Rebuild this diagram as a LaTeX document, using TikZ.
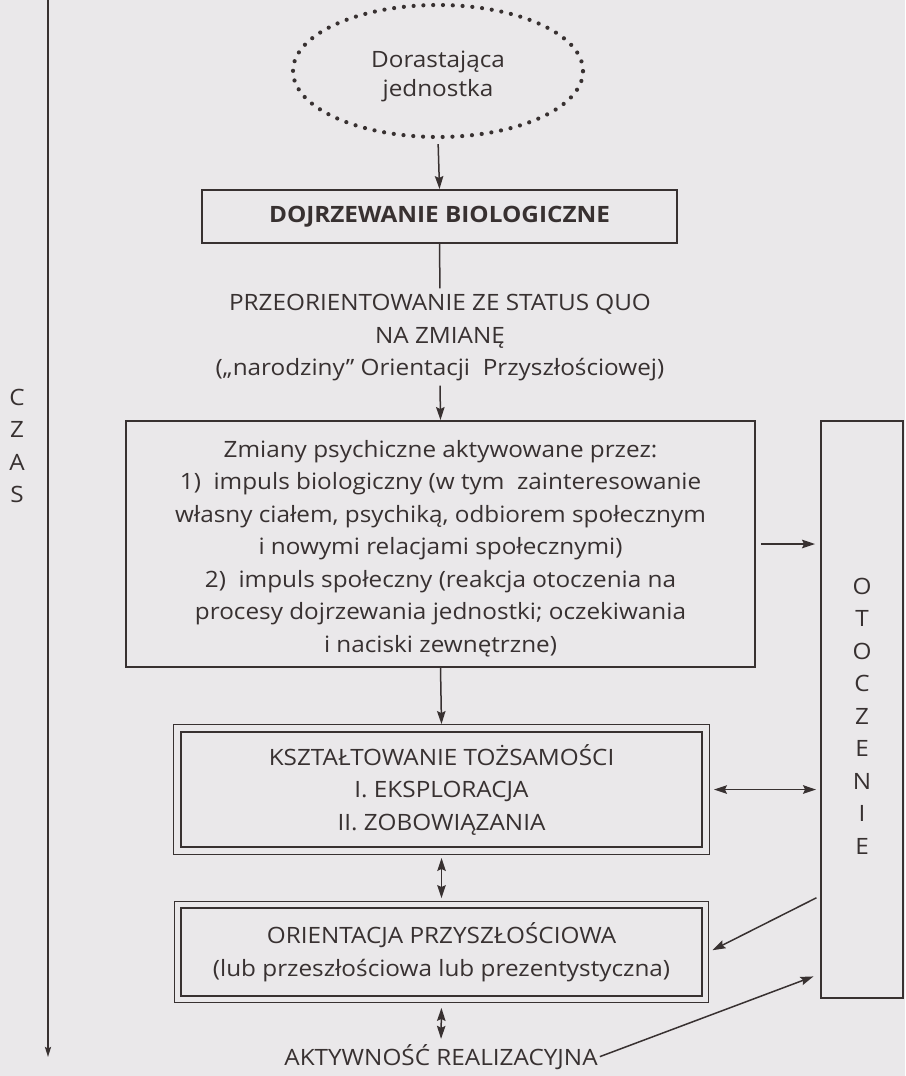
\documentclass[tikz,border=0pt]{standalone}
\usepackage{fontspec}
\setmainfont{Open Sans}[FakeStretch=1.08]
\usetikzlibrary{arrows.meta,shapes.geometric,fit,calc}
\definecolor{ink}{HTML}{383131}
\definecolor{paper}{HTML}{EAE8EA}
\begin{document}
\begin{tikzpicture}[x=1pt,y=-1pt,
  txt/.style={text=ink, font=\fontsize{22.5}{32.5}\selectfont},
  box/.style={txt, draw=ink, line width=1.9pt, inner sep=0pt, align=center},
  conn/.style={draw=ink, line width=1.5pt},
  tip/.style={-{Stealth[length=13pt,width=8.5pt,inset=2pt]}},
  tiptwo/.style={{Stealth[length=13pt,width=8.5pt,inset=2pt]}-{Stealth[length=13pt,width=8.5pt,inset=2pt]}},
  dots/.style={draw=ink, line width=4.2pt, line cap=round, dash pattern=on 0pt off 9.8pt}
]
\fill[paper] (0,0) rectangle (905,1076);
\useasboundingbox (0,0) rectangle (905,1076);

% time axis
\coordinate (t0) at (48,0);
\coordinate (t1) at (48,1057);
\draw[conn, line width=1.8pt, -{Stealth[length=10pt,width=6pt,inset=1.5pt]}] (t0) -- (t1);
\node[txt, align=center, inner sep=0pt] (czas) at (17,446) {C\\Z\\A\\S};

% top ellipse
\node[txt, ellipse, dots, minimum width=290, minimum height=132, inner sep=0pt, align=center,
      font=\fontsize{22.5}{29}\selectfont] (ell) at (438,71) {\rule{0pt}{27pt}Dorastająca\\jednostka};

% boxes
\node[box, minimum width=475, minimum height=53, font=\fontsize{22.5}{32.5}\selectfont\bfseries] (bio) at (439.5,216.5) {DOJRZEWANIE BIOLOGICZNE};

\node[txt, align=center, inner sep=2pt] (prz) at (440,338) {PRZEORIENTOWANIE ZE STATUS QUO\\NA ZMIANĘ\\(„narodziny” Orientacji\ \ Przyszłościowej)};

\node[box, minimum width=629, minimum height=246] (zm) at (440.5,544) {\rule{0pt}{26pt}Zmiany psychiczne aktywowane przez:\\
1)\ \ impuls biologiczny (w tym\ \ zainteresowanie\\
własny ciałem, psychiką, odbiorem społecznym\\
i nowymi relacjami społecznymi)\\
2)\ \ impuls społeczny (reakcja otoczenia na\\
procesy dojrzewania jednostki; oczekiwania\\
i naciski zewnętrzne)};

\node[box, line width=1.7pt, minimum width=521, minimum height=115] (ksz) at (441.5,789.5) {KSZTAŁTOWANIE TOŻSAMOŚCI\\I. EKSPLORACJA\\II. ZOBOWIĄZANIA};
\node[draw=ink, line width=1.2pt, fit=(ksz), inner sep=6.5pt] (kszo) {};

\node[box, line width=2.8pt, minimum width=521, minimum height=88] (ori) at (441.5,952) {ORIENTACJA PRZYSZŁOŚCIOWA\\(lub przeszłościowa lub prezentystyczna)};
\node[draw=ink, line width=1pt, fit=(ori), inner sep=5pt] (orio) {};

\node[txt, inner sep=2pt, anchor=base] (akt) at (441,1065) {AKTYWNOŚĆ REALIZACYJNA};

% environment box
\node[draw=ink, line width=1.9pt, minimum width=82, minimum height=577, inner sep=0pt] (oto) at (862,709.5) {};
\node[txt, align=center, inner sep=0pt] (otol) at (862,716) {O\\T\\O\\C\\Z\\E\\N\\I\\E};

% connectors
\draw[conn, tip, shorten <=5pt] (ell.south) -- (bio.north);
\draw[conn, shorten >=4pt] (bio.south) -- (prz.north);
\draw[conn, tip, shorten <=2pt] (prz.south) -- (zm.north);
\draw[conn, tip] (zm.south) -- (kszo.north);
\draw[conn, tiptwo, shorten <=3pt, shorten >=3pt] (kszo.south) -- (orio.north);
\draw[conn, tiptwo, shorten <=5pt, shorten >=3pt] (orio.south) -- (akt.north);
\draw[conn, tip, shorten <=5pt, shorten >=5pt] (zm.east) -- (zm.east -| oto.west);
\draw[conn, tiptwo, shorten <=4pt, shorten >=4pt] (kszo.east) -- (kszo.east -| oto.west);
\coordinate (o1) at ($(oto.south west)+(0,-103)$);
\coordinate (o2) at ($(oto.south west)+(0,-25)$);
\draw[conn, tip, shorten <=4pt, shorten >=4pt] (o1) -- (orio.east);
\draw[conn, tip, shorten >=7pt] (akt.east) -- (o2);
\end{tikzpicture}
\end{document}
